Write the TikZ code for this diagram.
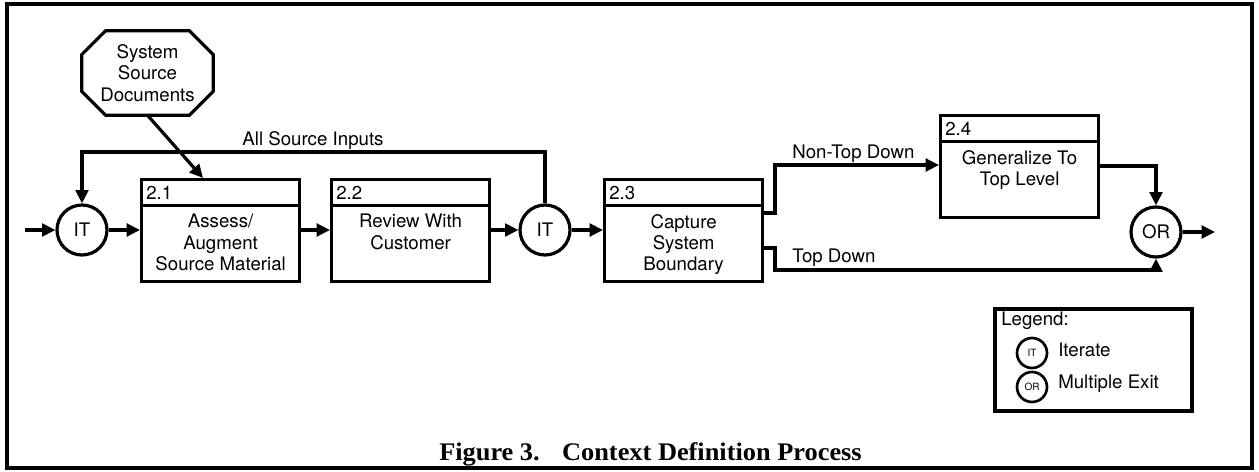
\documentclass[tikz,border=0pt]{standalone}
\usepackage{fontspec}
\setmainfont{TeX Gyre Heros}
\newfontfamily\capfont{Liberation Serif}
\usetikzlibrary{arrows.meta,calc}

\begin{document}
\begin{tikzpicture}[x=0.75pt,y=-0.75pt,
  every node/.style={font=\fontsize{14}{16}\selectfont},
  line/.style={line width=2.4pt},
  flow/.style={line width=2.4pt,-{Triangle[length=10pt,width=9.5pt]}},
  hdbox/.style={draw,line width=2.4pt,minimum width=118.5pt,minimum height=19.5pt,
    text width=111.5pt,inner xsep=3.5pt,inner ysep=0pt,align=left,anchor=north west},
  bodybox/.style={draw,line width=2.4pt,minimum width=118.5pt,minimum height=57pt,
    anchor=north west,inner sep=0pt},
  bodytext/.style={align=center,anchor=north,inner sep=0pt},
  junction/.style={circle,draw,line width=2.4pt,minimum size=37.5pt,inner sep=0pt},
  smalljunction/.style={circle,draw,line width=2pt,minimum size=22.5pt,inner sep=0pt,
    font=\fontsize{7.5}{8}\selectfont},
  lbl/.style={inner sep=0pt}]

\useasboundingbox (0,0) rectangle (1259,471);

% outer frame
\draw[line width=2.4pt] (7,4) rectangle (1252,468);

% source documents (octagon)
\node[align=center,minimum width=98.25pt,minimum height=63pt,inner sep=0pt] (ssd) at (147.5,73)
  {System\\Source\\Documents};
\draw[line] ($(ssd.north west)+(24,0)$) -- ($(ssd.north east)+(-24,0)$)
  -- ($(ssd.north east)+(0,24)$) -- ($(ssd.south east)+(0,-24)$)
  -- ($(ssd.south east)+(-24,0)$) -- ($(ssd.south west)+(24,0)$)
  -- ($(ssd.south west)+(0,-24)$) -- ($(ssd.north west)+(0,24)$) -- cycle;

% junctions
\node[junction] (it1) at (82,230) {IT};
\node[junction] (it2) at (545,230) {IT};
\node[junction] (or) at (1156,232) {OR};

% process 2.1
\node[hdbox] (h21) at (140,178) {2.1};
\node[bodybox] (b21) at (140,204) {};
\node[bodytext] (t21) at ($(b21.north)+(0,10)$) {Assess/\\Augment\\Source Material};

% process 2.2
\node[hdbox] (h22) at (330,178) {2.2};
\node[bodybox] (b22) at (330,204) {};
\node[bodytext] (t22) at ($(b22.north)+(0,10)$) {Review With\\Customer};

% process 2.3
\node[hdbox] (h23) at (603,178) {2.3};
\node[bodybox] (b23) at (603,204) {};
\node[bodytext] (t23) at ($(b23.north)+(0,10)$) {Capture\\System\\Boundary};

% process 2.4
\node[hdbox] (h24) at (939,114) {2.4};
\node[bodybox] (b24) at (939,140) {};
\node[bodytext] (t24) at ($(b24.north)+(0,10)$) {Generalize To\\Top Level};

% free ends and bends
\coordinate (in) at (25,230);
\coordinate (out) at (1215,232);
\coordinate (loop) at (82,152);
\coordinate (ntd) at (775,165);
\coordinate (td) at (775,270);

% main flow
\draw[flow] (in) -- (it1.west);
\draw[flow] (it1.east) -- (it1 -| b21.west);
\draw[flow] (it1 -| b21.east) -- (it1 -| b22.west);
\draw[flow] (it2 -| b22.east) -- (it2.west);
\draw[flow] (it2.east) -- (it2 -| b23.west);
\draw[flow] (ssd.south) -- ($(h21.north west)+(63,0)$);

% iteration loop
\draw[flow] (it2.north) |- (loop) -- (it1.north);
\node[lbl,anchor=base] (lall) at (313,145) {All Source Inputs};

% branches from 2.3
\draw[flow] ($(b23.north east)+(0,9)$) -| (ntd) -- (ntd -| b24.west);
\node[lbl,anchor=base west] (lntd) at (792,158) {Non-Top Down};
\draw[flow] ($(b23.north east)+(0,44)$) -| (td) -| (or.south);
\node[lbl,anchor=base west] (ltd) at (792,262) {Top Down};
\draw[flow] ($(b24.north east)+(0,26)$) -| (or.north);
\draw[flow] (or.east) -- (out);

% legend
\node[draw,line width=2.4pt,minimum width=147.75pt,minimum height=76.5pt,inner sep=0pt] (legend) at (1093.5,360) {};
\node[lbl,anchor=base west] (legt) at (1001,325) {Legend:};
\node[smalljunction] (lit) at (1032,353) {IT};
\node[lbl,anchor=base west] (lite) at (1058,356) {Iterate};
\node[smalljunction] (lor) at (1032,387) {OR};
\node[lbl,anchor=base west] (lore) at (1058,388) {Multiple Exit};

% caption
\node[lbl,anchor=base west,font=\capfont\bfseries\fontsize{19}{21}\selectfont] (cap) at (439,460)
  {\scalebox{1.04}[1]{Figure 3.\hspace{0.85em}Context Definition Process}};

\end{tikzpicture}
\end{document}
